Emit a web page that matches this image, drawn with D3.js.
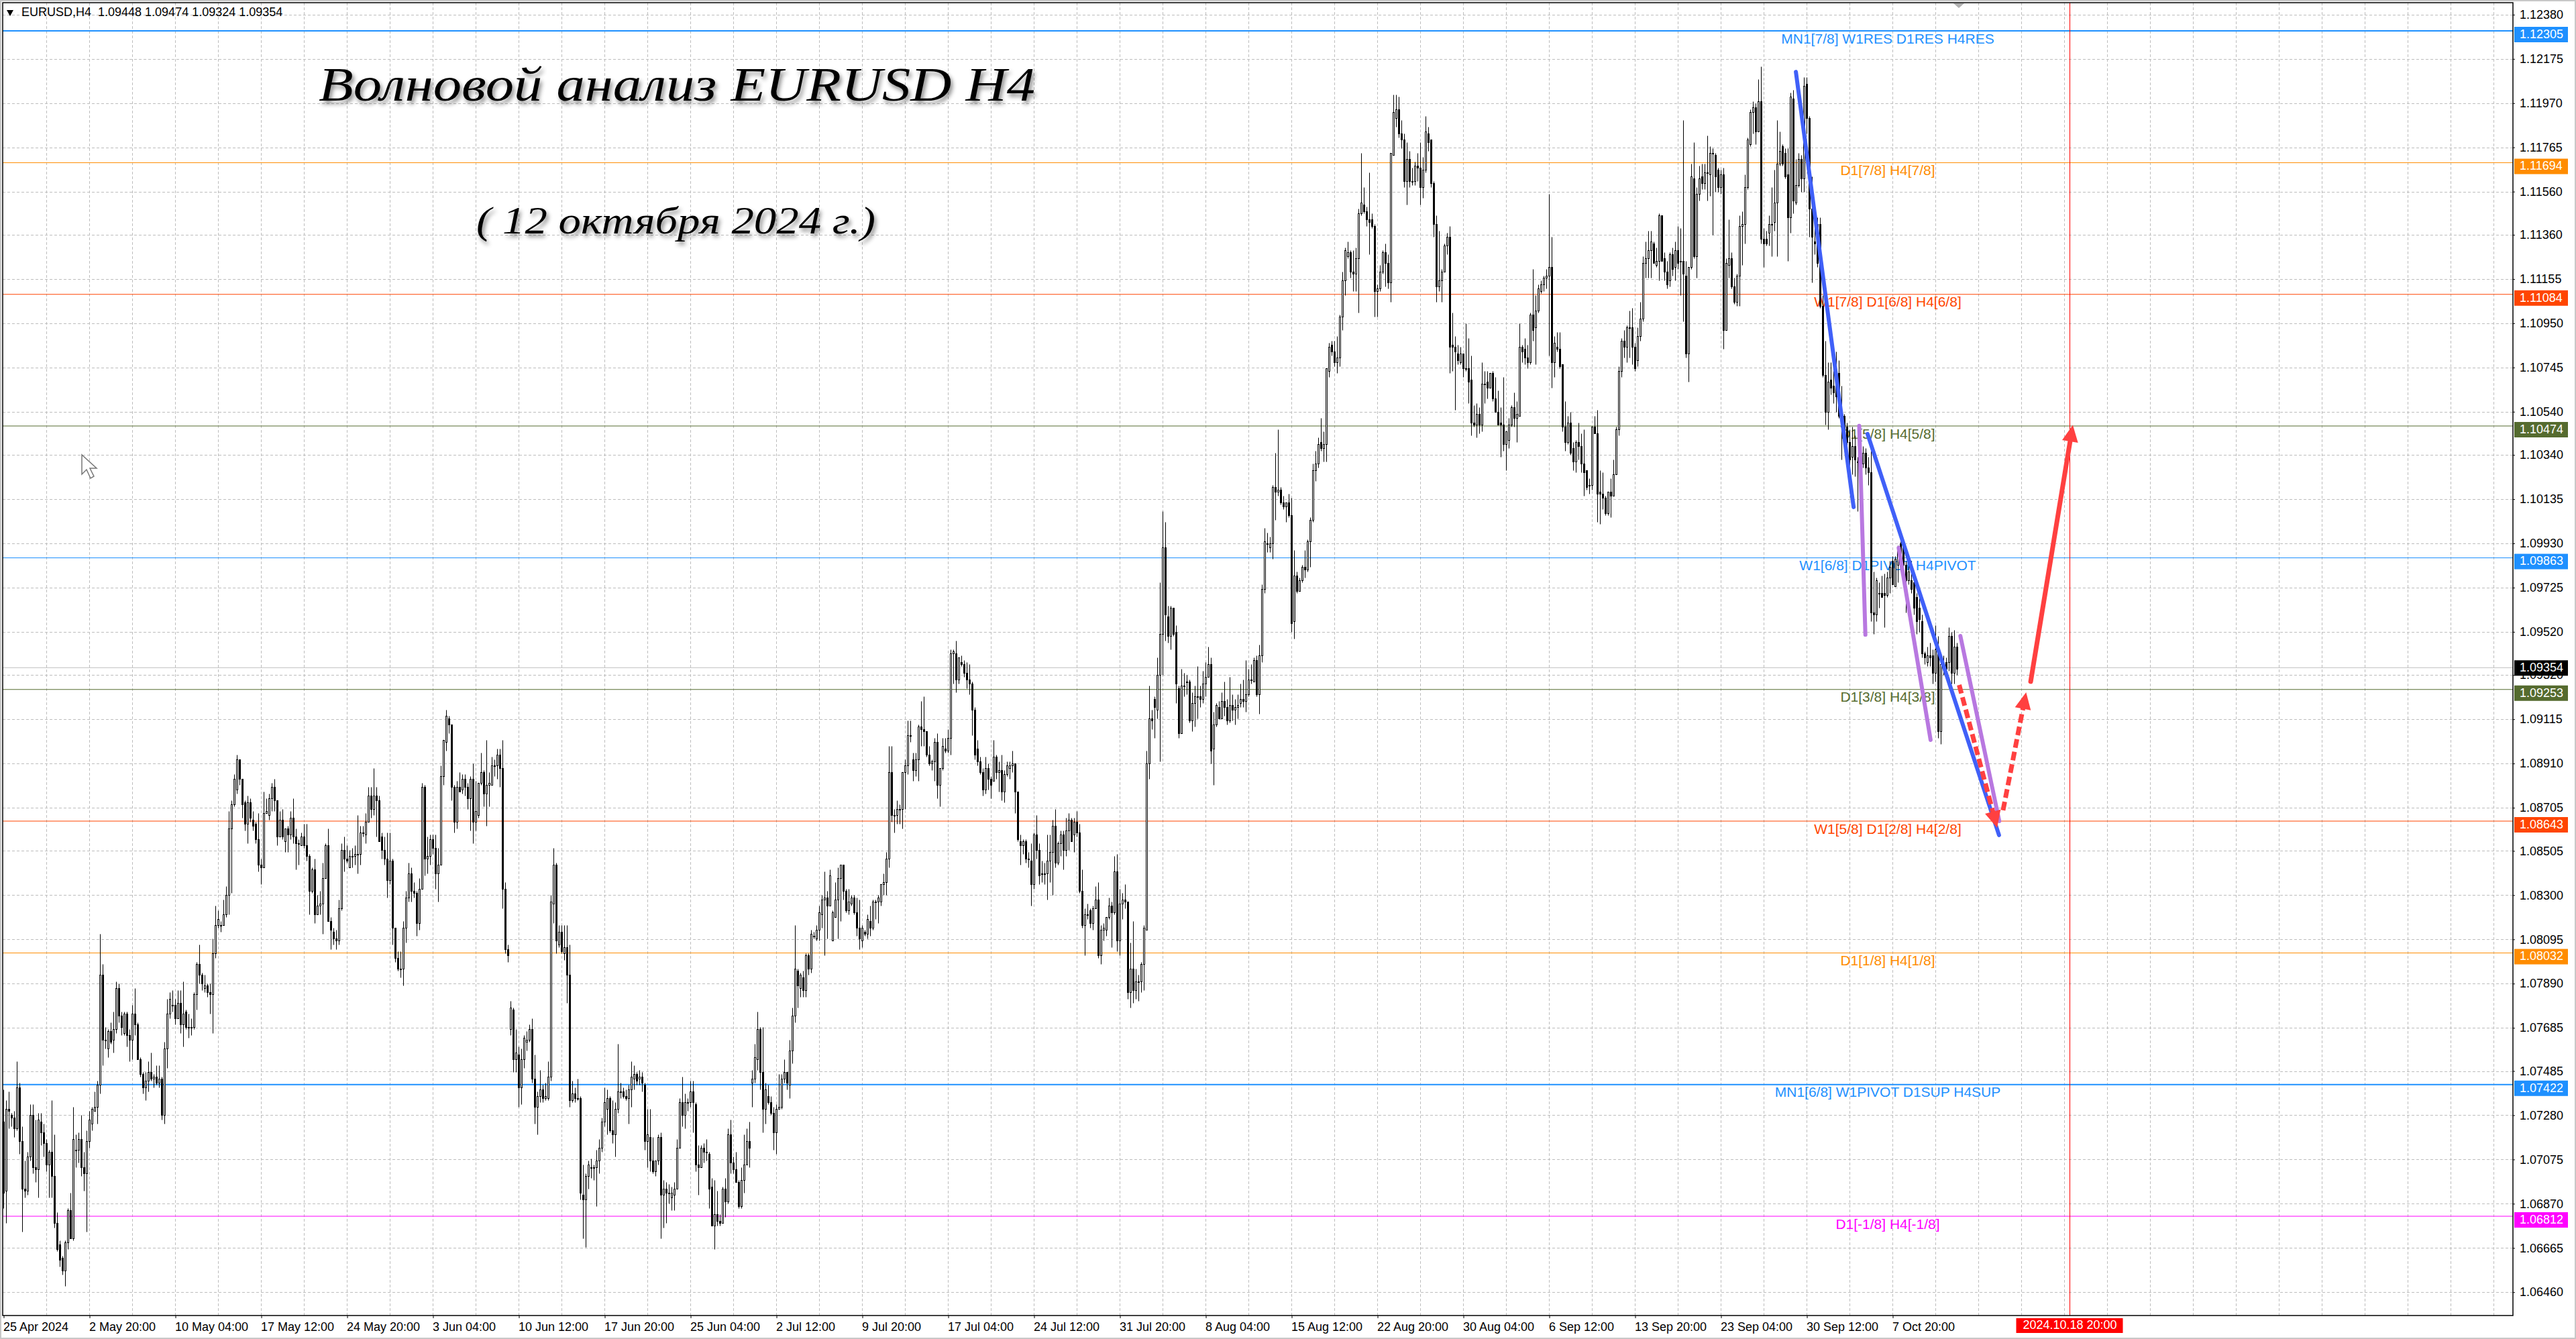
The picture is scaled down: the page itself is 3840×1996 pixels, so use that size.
<!DOCTYPE html>
<html>
<head>
    <meta charset="utf-8">
    <title>EURUSD H4</title>
    <script src="https://d3js.org/d3.v7.min.js"></script>
    <style>
        html, body { margin: 0; padding: 0; background: #fff; overflow: hidden; }
        svg { display: block; font-family: "Liberation Sans", Arial, sans-serif; }
        .hand { font-family: "Liberation Serif", serif; font-style: italic; filter: drop-shadow(3px 5px 3px rgba(0,0,0,.45)); }
    </style>
</head>
<body>
<script>
const opens = [
725,693,731,728,727,722,741,716,694,693,709,728,704,703,725,720,715,705,711,700,
678,668,662,656,669,684,671,712,712,717,704,701,716,724,730,732,742,793,763,759,
767,763,768,787,774,766,775,765,763,775,770,754,747,741,744,748,745,746,743,745,
728,759,775,779,779,773,780,770,776,769,769,769,784,798,793,787,788,785,784,803,
816,816,816,821,830,861,872,879,893,884,873,863,873,865,863,856,844,843,868,867,
875,880,874,857,865,855,861,858,866,857,854,853,857,853,848,832,842,821,825,826,
838,853,818,813,810,809,824,851,847,843,848,848,849,849,859,858,864,876,870,876,
874,857,851,847,837,846,815,801,796,796,815,829,840,832,831,817,833,880,847,848,
856,852,840,844,885,901,912,909,880,864,880,879,884,880,875,884,864,867,882,887,
877,881,881,890,890,895,889,833,805,768,777,754,756,741,754,762,763,768,745,732,
737,740,736,736,746,826,844,807,813,803,806,793,735,738,736,736,691,689,700,704,
704,704,707,713,725,731,736,721,719,731,739,739,737,736,740,745,747,745,746,742,
716,718,707,702,707,718,691,694,692,690,691,694,713,734,728,734,734,739,733,705,
704,713,711,710,695,677,682,679,678,694,688,719,706,703,697,686,698,705,716,743,
745,754,768,748,731,737,734,729,720,731,732,745,748,742,758,774,795,787,792,786,
802,796,811,810,814,821,828,829,825,809,820,828,838,844,832,823,826,829,822,815,
809,813,812,818,815,827,827,827,835,836,847,887,867,867,870,870,887,890,904,893,
888,893,908,907,906,895,891,892,901,881,889,898,897,903,942,942,930,938,937,933,
930,928,916,898,892,887,879,889,884,883,894,887,888,878,886,889,890,891,878,855,
853,855,847,846,835,858,851,840,840,840,846,850,862,845,854,858,851,860,865,858,
864,859,832,816,821,823,817,824,828,802,814,814,820,825,822,841,809,826,828,827,
785,796,786,790,790,798,814,891,912,921,916,932,951,991,959,950,963,952,926,905,
927,929,929,911,919,922,922,921,928,931,937,898,909,917,912,920,917,911,918,916,
917,919,921,920,923,930,929,939,923,941,972,993,991,993,1019,1017,1018,1012,1010,1012,
1006,957,978,971,976,982,981,994,1004,1027,1030,1040,1037,1039,1073,1085,1082,1077,1079,1098,
1115,1126,1128,1119,1118,1125,1146,1150,1147,1143,1143,1140,1110,1111,1119,1128,1123,1114,1173,1190,
1194,1183,1180,1161,1171,1161,1161,1168,1167,1158,1166,1183,1180,1160,1141,1112,1115,1119,1131,1135,
1085,1084,1081,1077,1081,1074,1074,1069,1049,1048,1053,1048,1067,1068,1065,1072,1060,1054,1049,1048,
1039,1041,1048,1056,1051,1052,1084,1083,1079,1077,1099,1093,1101,1110,1113,1116,1117,1121,1077,1084,
1083,1076,1047,1040,1049,1037,1031,1040,1038,1030,1027,1020,1020,1047,1044,1017,1016,1014,1007,1017,
1015,1025,1046,1073,1087,1084,1093,1093,1084,1078,1089,1097,1123,1125,1129,1132,1122,1124,1145,1125,
1119,1115,1127,1121,1129,1124,1124,1117,1081,1121,1162,1126,1155,1163,1160,1165,1164,1174,1173,1166,
1158,1164,1092,1122,1125,1112,1105,1117,1140,1141,1158,1178,1193,1195,1184,1198,1134,1134,1137,1141,
1142,1151,1169,1177,1174,1164,1144,1199,1151,1159,1171,1162,1206,1190,1148,1133,1141,1141,1103,1071,
1054,1069,1066,1067,1072,1052,1052,1047,1040,1033,1038,1031,1031,1030,1035,1028,1026,961,960,970,
970,970,969,977,985,973,983,993,992,983,976,976,975,968,963,957,942,938,941,941,
933,942,906,937,938,938,950,933,945];
const highs = [
740,735,739,729,730,753,743,723,707,711,733,733,726,729,729,724,717,712,735,719,
683,670,663,670,685,692,732,719,720,728,711,721,730,732,739,744,812,798,769,768,
771,776,790,789,776,776,776,768,779,787,771,755,748,748,753,757,747,751,751,746,
762,782,785,786,782,786,786,790,777,775,773,785,799,807,794,793,789,789,810,825,
823,818,828,834,869,874,886,895,893,884,874,876,875,869,864,868,847,878,875,877,
882,884,874,869,870,861,862,869,875,861,856,859,863,863,849,843,847,830,832,845,
854,861,820,815,814,828,854,857,853,851,852,853,867,862,862,868,880,880,889,880,
876,859,857,859,859,847,815,804,804,818,832,845,843,836,832,838,882,881,857,858,
858,858,852,890,902,916,913,909,881,883,887,886,886,882,885,891,883,882,896,888,
902,887,894,893,898,898,902,836,807,781,778,768,760,759,765,767,770,773,756,739,
749,742,743,753,830,852,845,816,816,816,816,807,744,741,745,737,705,701,707,708,
705,712,717,727,741,740,737,735,734,761,743,741,740,742,753,751,748,749,748,743,
731,731,718,707,719,720,698,697,696,695,697,717,736,746,738,736,744,744,734,714,
714,715,717,711,699,698,693,682,695,699,722,726,709,711,698,704,719,722,725,749,
761,776,769,769,743,742,737,732,733,747,747,754,748,763,778,816,796,794,795,803,
803,814,813,816,825,830,841,832,842,823,836,843,844,844,833,833,830,830,829,828,
816,814,821,825,828,828,830,835,840,850,899,899,870,874,872,887,893,911,911,896,
896,909,920,922,906,899,893,903,905,889,903,903,907,944,944,948,940,941,939,938,
937,929,917,902,894,889,894,891,885,902,895,892,895,888,892,892,897,891,878,858,
856,856,850,854,859,867,854,846,845,858,858,865,870,855,860,860,866,868,866,866,
869,863,842,824,826,824,825,834,836,816,817,820,829,827,848,849,833,831,835,827,
808,818,796,793,799,816,897,927,916,922,940,975,1008,1003,964,964,963,955,927,935,
933,932,930,924,927,936,927,934,938,945,940,915,919,920,924,929,921,931,923,921,
923,928,930,939,935,937,940,941,946,974,1000,998,996,1020,1035,1046,1019,1015,1012,1016,
1014,990,980,977,983,990,995,1005,1030,1036,1042,1051,1045,1074,1086,1087,1087,1089,1099,1119,
1130,1133,1129,1129,1130,1148,1174,1158,1149,1165,1146,1141,1113,1122,1129,1132,1127,1174,1201,1201,
1200,1189,1183,1179,1175,1167,1170,1174,1179,1172,1191,1186,1180,1161,1145,1138,1120,1132,1137,1140,
1100,1089,1085,1084,1081,1095,1088,1080,1057,1058,1056,1077,1073,1073,1072,1073,1070,1064,1056,1070,
1045,1051,1057,1063,1059,1095,1085,1088,1085,1100,1120,1108,1113,1115,1117,1120,1155,1135,1089,1091,
1091,1076,1059,1052,1054,1040,1041,1049,1044,1046,1027,1023,1047,1052,1055,1027,1026,1015,1017,1023,
1032,1047,1075,1088,1092,1094,1101,1102,1086,1093,1105,1126,1133,1138,1138,1133,1130,1146,1145,1128,
1124,1128,1130,1133,1140,1139,1189,1124,1121,1169,1179,1158,1168,1169,1169,1182,1177,1176,1174,1167,
1166,1167,1125,1143,1128,1116,1118,1145,1147,1164,1181,1194,1198,1197,1208,1214,1139,1138,1145,1158,
1166,1189,1184,1178,1176,1176,1202,1203,1171,1174,1173,1209,1209,1191,1163,1142,1144,1144,1108,1087,
1077,1077,1073,1082,1078,1066,1053,1049,1046,1047,1043,1033,1035,1038,1037,1033,1036,980,977,975,
978,979,980,985,987,987,992,994,993,985,983,985,976,970,972,960,943,945,947,944,
955,950,940,941,940,954,952,953,947];
const lows = [
685,678,722,723,718,721,710,674,690,691,707,701,697,690,714,709,702,690,690,676,
665,658,654,649,666,671,670,704,706,700,693,674,713,721,730,724,738,751,759,755,
761,757,766,771,765,765,760,753,754,765,754,746,738,735,739,744,741,742,741,726,
724,750,773,776,770,773,766,760,768,764,765,768,777,789,786,785,783,775,766,801,
815,813,816,820,821,831,871,877,881,866,860,854,864,860,854,841,835,843,868,865,
869,869,853,857,856,850,850,856,854,842,844,853,852,846,821,831,817,821,821,812,
838,818,805,807,805,807,823,841,845,843,843,844,840,844,857,854,864,866,867,857,
855,847,844,829,835,807,799,795,792,788,808,827,827,829,811,814,833,839,840,844,
849,833,827,844,881,897,905,874,859,861,878,877,876,870,860,854,860,866,881,871,
862,871,881,885,884,880,824,803,799,765,748,748,732,733,750,758,762,743,724,719,
734,734,735,735,744,817,803,806,803,800,780,732,734,734,735,689,671,667,694,699,
698,686,701,711,723,719,720,715,709,729,736,736,735,724,732,740,742,742,739,712,
704,702,701,700,705,671,676,678,687,684,684,694,713,723,722,730,732,720,702,691,
704,706,707,685,677,666,677,677,678,681,687,701,701,697,685,685,692,705,704,732,
743,749,740,720,724,733,728,712,710,731,731,743,740,736,752,771,778,783,783,783,
793,794,810,809,809,815,802,810,825,809,820,810,818,828,822,821,825,821,811,805,
806,811,810,811,814,819,817,825,830,830,843,864,859,863,863,861,870,886,901,883,
885,883,899,899,894,890,888,883,875,871,888,896,896,895,928,924,928,936,931,926,
923,904,893,890,886,876,877,879,875,883,884,878,874,873,885,884,887,868,855,844,
849,845,843,825,833,847,835,836,835,828,836,830,843,844,848,842,848,851,855,850,
857,831,815,802,819,815,814,824,801,798,809,811,819,806,821,804,802,819,824,782,
778,780,782,781,785,786,814,884,907,903,912,892,932,948,947,944,950,919,903,905,
922,923,910,906,908,912,917,919,922,931,891,881,908,912,912,913,909,910,911,909,
912,917,917,915,922,928,929,922,914,938,970,989,989,986,1004,1015,1011,1009,1003,1005,
952,949,970,971,975,977,980,982,1003,1022,1028,1036,1031,1031,1070,1080,1075,1072,1075,1092,
1108,1125,1116,1110,1110,1100,1145,1146,1140,1127,1139,1098,1098,1110,1118,1112,1111,1105,1173,1186,
1181,1176,1158,1150,1158,1159,1159,1161,1150,1153,1165,1175,1158,1135,1105,1110,1105,1119,1127,1072,
1073,1055,1076,1076,1070,1073,1058,1043,1047,1042,1044,1045,1058,1060,1065,1059,1054,1048,1033,1036,
1027,1037,1047,1047,1040,1052,1077,1076,1074,1076,1087,1076,1100,1109,1110,1111,1080,1065,1070,1082,
1074,1045,1036,1039,1034,1027,1026,1032,1026,1015,1018,1016,1018,1044,1003,1002,1009,1006,1006,1005,
1015,1025,1043,1070,1079,1077,1079,1076,1073,1075,1087,1096,1116,1116,1116,1123,1121,1115,1124,1115,
1111,1112,1117,1115,1120,1108,1096,1079,1068,1120,1125,1116,1152,1157,1157,1152,1154,1136,1156,1156,
1155,1083,1092,1116,1111,1104,1103,1103,1122,1132,1157,1177,1183,1178,1184,1132,1121,1131,1131,1126,
1138,1126,1168,1168,1162,1124,1137,1146,1150,1158,1156,1156,1183,1135,1114,1127,1121,1102,1070,1048,
1046,1062,1058,1054,1051,1032,1044,1036,1025,1025,1024,1008,1020,1028,1025,1020,957,951,957,963,
968,954,968,970,974,973,975,986,980,961,974,970,960,951,952,940,937,936,936,928,
929,903,900,932,930,934,928,928,932];
const closes = [
692,731,730,727,722,741,716,694,693,709,728,704,703,726,720,715,705,711,700,678,
666,661,656,669,684,671,717,712,717,704,701,716,726,731,732,742,793,763,763,767,
762,768,787,774,769,775,765,763,775,770,754,747,741,744,748,745,746,743,745,728,
759,775,782,779,773,780,770,775,769,769,769,784,798,793,789,788,785,784,803,816,
819,816,821,830,861,872,884,893,884,872,863,873,866,862,856,844,843,868,869,875,
880,874,857,865,857,861,858,866,857,854,854,857,853,848,832,842,821,825,826,838,
853,818,814,810,809,824,851,847,846,848,848,849,849,859,859,864,876,870,876,874,
855,851,847,837,846,815,801,796,796,815,829,840,832,831,817,833,880,847,848,856,
852,840,844,885,902,913,909,880,864,880,878,884,880,875,884,864,869,882,887,877,
881,882,890,890,895,889,833,805,802,778,754,757,741,754,764,763,768,745,732,737,
740,736,737,746,827,844,809,813,804,806,793,735,738,736,736,692,689,700,705,704,
704,707,713,725,734,736,721,719,731,739,739,737,736,740,746,747,744,746,743,716,
719,707,702,707,718,691,694,692,692,692,694,713,734,728,734,734,739,734,705,704,
713,711,711,694,677,682,679,678,694,688,719,706,703,697,686,698,705,716,713,745,
755,768,748,731,740,734,729,720,731,732,745,748,743,758,774,796,788,793,786,802,
796,812,811,814,822,828,829,825,839,822,828,838,844,832,823,827,829,822,815,810,
815,812,819,815,827,827,829,835,836,847,887,867,867,870,870,887,890,904,904,888,
893,908,907,906,895,891,892,901,881,889,899,897,903,942,943,930,940,937,933,930,
928,916,895,892,887,879,889,884,881,894,887,888,878,886,890,890,891,878,856,853,
855,847,847,835,858,851,839,840,840,846,850,862,845,854,858,851,860,865,855,864,
859,832,816,821,821,817,824,828,802,814,815,820,825,822,841,809,826,828,827,785,
796,786,790,790,798,815,891,912,911,917,932,951,991,960,950,963,951,928,905,927,
927,929,911,919,922,922,921,928,931,937,897,909,918,912,920,917,911,918,916,917,
918,921,920,923,930,930,939,923,941,972,994,993,993,1019,1017,1018,1012,1010,1012,1006,
956,978,971,976,982,981,994,1004,1027,1030,1039,1037,1039,1074,1084,1082,1077,1079,1098,1115,
1129,1128,1119,1118,1125,1146,1151,1147,1143,1142,1140,1110,1111,1119,1128,1123,1114,1174,1193,1194,
1183,1180,1161,1171,1161,1161,1168,1167,1158,1166,1184,1179,1160,1141,1112,1115,1119,1131,1135,1084,
1084,1082,1078,1081,1074,1074,1068,1049,1048,1053,1048,1067,1067,1065,1072,1060,1054,1048,1048,1039,
1045,1048,1056,1051,1053,1084,1082,1079,1077,1099,1092,1101,1111,1113,1116,1117,1121,1077,1086,1083,
1075,1047,1040,1049,1035,1031,1040,1038,1030,1026,1019,1020,1047,1044,1016,1016,1014,1007,1017,1015,
1025,1046,1073,1087,1084,1093,1093,1084,1074,1089,1097,1123,1125,1129,1133,1123,1124,1145,1124,1119,
1113,1127,1120,1129,1123,1124,1118,1081,1121,1163,1126,1155,1162,1160,1165,1165,1174,1174,1163,1158,
1164,1092,1123,1125,1112,1105,1117,1140,1141,1158,1180,1193,1195,1184,1198,1134,1132,1132,1141,1141,
1151,1169,1175,1169,1163,1144,1200,1152,1159,1171,1162,1205,1190,1148,1135,1132,1123,1103,1071,1054,
1068,1065,1063,1061,1052,1047,1045,1040,1032,1038,1032,1031,1031,1035,1028,1026,961,960,976,970,
968,969,977,982,974,986,990,988,983,976,980,972,963,957,958,942,940,941,940,933,
944,906,937,936,935,950,933,945,935];

const priceTicks = [1.1238,1.12175,1.1197,1.11765,1.1156,1.1136,1.11155,1.1095,1.10745,1.1054,1.1034,1.10135,1.0993,1.09725,1.0952,1.0932,1.09115,1.0891,1.08705,1.08505,1.083,1.08095,1.0789,1.07685,1.07485,1.0728,1.07075,1.0687,1.06665,1.0646];
const timeLabels = ["25 Apr 2024","2 May 20:00","10 May 04:00","17 May 12:00","24 May 20:00","3 Jun 04:00","10 Jun 12:00","17 Jun 20:00","25 Jun 04:00","2 Jul 12:00","9 Jul 20:00","17 Jul 04:00","24 Jul 12:00","31 Jul 20:00","8 Aug 04:00","15 Aug 12:00","22 Aug 20:00","30 Aug 04:00","6 Sep 12:00","13 Sep 20:00","23 Sep 04:00","30 Sep 12:00","7 Oct 20:00"];

// murrey levels
const levelPrices = [1.12305,1.11694,1.11084,1.10474,1.09863,1.09253,1.08643,1.08032,1.07422,1.06812];
const levelNames = ["MN1[7/8] W1RES D1RES H4RES","D1[7/8] H4[7/8]","W1[7/8] D1[6/8] H4[6/8]","D1[5/8] H4[5/8]","W1[6/8] D1PIVOT H4PIVOT","D1[3/8] H4[3/8]","W1[5/8] D1[2/8] H4[2/8]","D1[1/8] H4[1/8]","MN1[6/8] W1PIVOT D1SUP H4SUP","D1[-1/8] H4[-1/8]"];
const levelColors = ["#1e90ff","#ff8c00","#ff4500","#556b2f","#1e90ff","#556b2f","#ff4500","#ff8c00","#1e90ff","#ff00ff"];
const levelWidths = [2,1,1,1,1,1,1,1,2,1];
const bidPrice = 1.09354;

// hand drawn wave lines, bar number and pips
const waveFromBar = [691.5,706.2,729.2,667.9,694.6];
const waveFromPips = [1047.5,991,950.1,1211.5,1043.7];
const waveToBar = [693.8,718.1,743.7,689.4,743.6];
const waveToPips = [950.7,901.9,864.3,1009.8,857.8];
const waveColors = ["#b878e0","#b878e0","#b878e0","#4060f8","#4060f8"];

const arrowFromBar = [728.75,745.1,755.4];
const arrowFromPips = [927.4,869.3,929];
const arrowToBar = [742.9,753.7,771.1];
const arrowToPips = [861.2,924,1047.9];
const arrowDashes = ["13 6","13 6",null];

const markerBar = 770;
const markerLabel = "2024.10.18 20:00";

const width = 3840, height = 1996;
const left = 4, top_ = 4, right = 3746, bottom = 1961;

const x = d3.scaleLinear().domain([0, opens.length - 1]).range([5.5, 5.5 + 4 * (opens.length - 1)]);
const y = d3.scaleLinear().domain([1.12305, 1.06812]).range([46, 1813]);
const yp = p => y(1 + p / 10000);
const snap = v => Math.round(v) + 0.5;

const svg = d3.select("body").append("svg").attr("width", width).attr("height", height);
svg.append("rect").attr("width", width).attr("height", height).attr("fill", "#fff");

// window edge
svg.append("path").attr("d", `M1,${height - 1}V1H${width - 1}V${height - 1}Z`).attr("fill", "none").attr("stroke", "#c8c8c8").attr("stroke-width", 2);

// grid
const gridX = d3.range(0, 59).map(k => 5.5 + 64 * k).filter(v => v < right);
svg.append("g").selectAll("line").data(gridX.slice(1)).join("line")
    .attr("x1", d => d).attr("x2", d => d).attr("y1", top_).attr("y2", bottom)
    .attr("stroke", "#bdbdbd").attr("stroke-dasharray", "4 3");
svg.append("g").selectAll("line").data(priceTicks).join("line")
    .attr("x1", left).attr("x2", right)
    .attr("y1", d => snap(y(d))).attr("y2", d => snap(y(d)))
    .attr("stroke", "#bdbdbd").attr("stroke-dasharray", "4 3");

// level lines with their names
const levels = svg.append("g");
levelPrices.forEach((p, i) => {
    levels.append("line").attr("x1", left).attr("x2", right).attr("y1", y(p)).attr("y2", y(p))
        .attr("stroke", levelColors[i]).attr("stroke-width", levelWidths[i]);
    levels.append("text").attr("x", 2814).attr("y", y(p) + 13).attr("text-anchor", "middle")
        .attr("dominant-baseline", "middle").attr("font-size", 21).attr("fill", levelColors[i]).text(levelNames[i]);
});
svg.append("line").attr("x1", left).attr("x2", right).attr("y1", y(bidPrice)).attr("y2", y(bidPrice)).attr("stroke", "#c0c0c0");
svg.append("line").attr("x1", x(markerBar)).attr("x2", x(markerBar)).attr("y1", top_).attr("y2", bottom).attr("stroke", "#ff0000");

// candles
const bars = d3.range(opens.length);
const candles = svg.append("g");
candles.selectAll("line").data(bars).join("line")
    .attr("x1", d => x(d)).attr("x2", d => x(d))
    .attr("y1", d => snap(yp(highs[d]))).attr("y2", d => snap(yp(lows[d])))
    .attr("stroke", "#000");
candles.selectAll("rect").data(bars).join("rect")
    .attr("x", d => x(d) - 1).attr("width", 2)
    .attr("y", d => snap(yp(Math.max(opens[d], closes[d]))))
    .attr("height", d => Math.max(1, Math.abs(snap(yp(opens[d])) - snap(yp(closes[d])))))
    .attr("fill", d => closes[d] > opens[d] ? "#fff" : "#000")
    .attr("stroke", "#000");

// wave lines
svg.append("g").selectAll("line").data(d3.range(waveColors.length)).join("line")
    .attr("x1", d => x(waveFromBar[d])).attr("y1", d => yp(waveFromPips[d]))
    .attr("x2", d => x(waveToBar[d])).attr("y2", d => yp(waveToPips[d]))
    .attr("stroke", d => waveColors[d]).attr("stroke-width", 6).attr("stroke-linecap", "round");

// red arrows, the shaft stops inside the head
const arrows = svg.append("g");
arrowFromBar.forEach((b, i) => {
    const x1 = x(b), y1 = yp(arrowFromPips[i]), x2 = x(arrowToBar[i]), y2 = yp(arrowToPips[i]);
    const len = Math.hypot(x2 - x1, y2 - y1), ux = (x2 - x1) / len, uy = (y2 - y1) / len;
    arrows.append("line").attr("x1", x1).attr("y1", y1).attr("x2", x2 - ux * 14).attr("y2", y2 - uy * 14)
        .attr("stroke", "#ff4040").attr("stroke-width", 7)
        .attr("stroke-linecap", arrowDashes[i] ? "butt" : "round")
        .attr("stroke-dasharray", arrowDashes[i]);
    const bx = x2 - ux * 25, by = y2 - uy * 25;
    arrows.append("path").attr("fill", "#ff4040")
        .attr("d", `M${x2},${y2}L${bx - uy * 12},${by + ux * 12}L${bx + uy * 12},${by - ux * 12}Z`);
});

// frame
svg.append("rect").attr("x", left).attr("y", top_).attr("width", right - left).attr("height", bottom - top_)
    .attr("fill", "none").attr("stroke", "#000").attr("stroke-width", 1.5);

// price axis
const yAxis = d3.axisRight(y).tickValues(priceTicks).tickFormat(d3.format(".5f")).tickSize(3).tickPadding(7);
const yg = svg.append("g").attr("transform", `translate(${right},0)`).call(yAxis);
yg.select(".domain").remove();
yg.selectAll("text").attr("font-size", 18).attr("font-family", "Liberation Sans").attr("fill", "#000");

// time axis, a label every 32 bars
const xAxis = d3.axisBottom(x).tickValues(timeLabels.map((d, i) => i * 32)).tickFormat((d, i) => timeLabels[i]).tickSize(4).tickPadding(6);
const xg = svg.append("g").attr("transform", `translate(0,${bottom})`).call(xAxis);
xg.select(".domain").remove();
xg.selectAll("text").attr("font-size", 18).attr("font-family", "Liberation Sans").attr("fill", "#000")
    .attr("text-anchor", "start").attr("dx", -1);

// coloured price boxes
const boxes = svg.append("g");
function priceBox(p, color, offset) {
    boxes.append("rect").attr("x", right + 2).attr("y", y(p) + offset).attr("width", 80).attr("height", 23).attr("fill", color);
    boxes.append("text").attr("x", right + 10).attr("y", y(p) + offset + 12).attr("dominant-baseline", "middle")
        .attr("font-size", 18).attr("fill", "#fff").text(p.toFixed(5));
}
levelPrices.forEach((p, i) => priceBox(p, levelColors[i], -6));
priceBox(bidPrice, "#000", -11);

// time box
svg.append("rect").attr("x", x(markerBar) - 80).attr("y", 1965).attr("width", 159).attr("height", 22).attr("fill", "#ff0000");
svg.append("text").attr("x", x(markerBar)).attr("y", 1976.5).attr("text-anchor", "middle").attr("dominant-baseline", "middle")
    .attr("font-size", 18).attr("fill", "#fff").text(markerLabel);

// header
svg.append("path").attr("d", "M10,15H20L15,24Z").attr("fill", "#000");
svg.append("text").attr("x", 32).attr("y", 19).attr("dominant-baseline", "middle").attr("font-size", 18).attr("fill", "#000")
    .attr("xml:space", "preserve").text("EURUSD,H4  1.09448 1.09474 1.09324 1.09354");

// shift mark on the top edge
svg.append("path").attr("d", "M2912,5H2928L2920,12Z").attr("fill", "#b0b0b0");

// titles
svg.append("text").attr("class", "hand").attr("x", 475).attr("y", 150).attr("font-size", 72).attr("fill", "#000")
    .attr("textLength", 1068).attr("lengthAdjust", "spacingAndGlyphs").text("Волновой анализ EURUSD H4");
svg.append("text").attr("class", "hand").attr("x", 710).attr("y", 348).attr("font-size", 56).attr("fill", "#000")
    .attr("textLength", 595).attr("lengthAdjust", "spacingAndGlyphs").text("( 12 октября 2024 г.)");

// mouse pointer left on the screenshot
svg.append("path").attr("transform", "translate(122,678)")
    .attr("d", "M0,0V29L7,22L13,35L18,32L12,20H22Z").attr("fill", "#fff").attr("stroke", "#777").attr("stroke-width", 1.5);
</script>
</body>
</html>
